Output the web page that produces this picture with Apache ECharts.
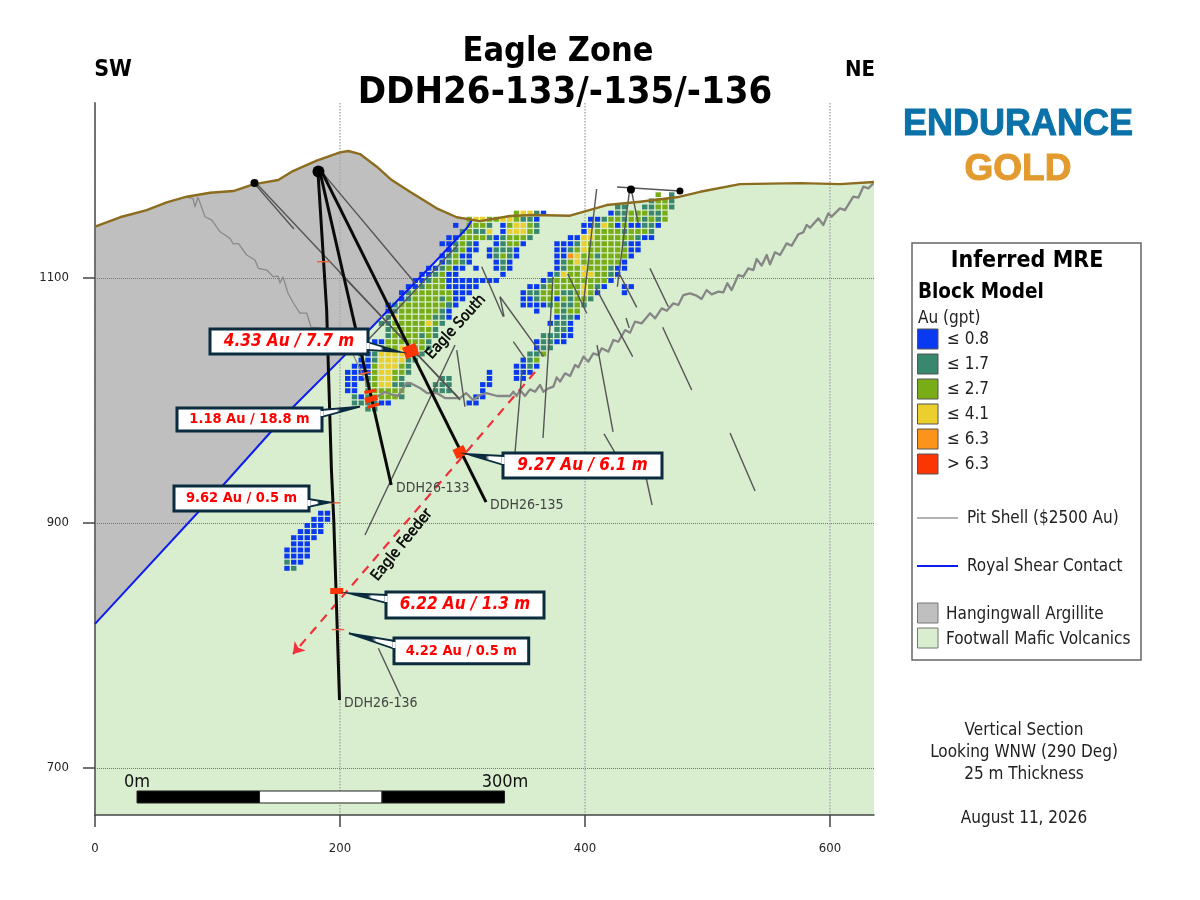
<!DOCTYPE html>
<html><head><meta charset="utf-8">
<style>html,body{margin:0;padding:0;background:#fff}#c{width:1200px;height:900px}</style>
<script src="https://cdn.jsdelivr.net/npm/echarts@6/dist/echarts.min.js"></script>
</head><body><div id="c"></div>
<script>
const xTicks = [0, 200, 400, 600];
const yTicks = [700, 900, 1100];
const topo = [[0,1141.9],[20.4,1149.6],[42.2,1155.5],[58.5,1161.8],[74.9,1166.4],[93.9,1169.6],[112.9,1171],[129.2,1176.5],[149.6,1180],[160.6,1186.8],[181,1195.8],[200,1202.6],[206.8,1203.7],[216.3,1201.2],[230,1190.9],[242.2,1180],[257.1,1170.4],[278.9,1156.9],[295.3,1149.6],[314.3,1146.5],[338.8,1150.6],[357.8,1151.4],[387.8,1150.9],[417.7,1159.6],[444.9,1162.3],[474.9,1165.9],[494,1170.4],[526.5,1176.7],[575.5,1177.5],[608.2,1176.7],[635.9,1178.4]];
const shear = [[0,817.6],[104.7,931],[161.9,994.9],[200,1033],[238.1,1072.5],[281.6,1117.4],[303.4,1140.6],[307.8,1147.5]];
const pitUpper = [[74.9,1165.9],[80,1165],[81.6,1158.2],[84.1,1165.9],[85.7,1165.9],[89.8,1150],[95.3,1147.3],[102,1137.8],[106.1,1135.1],[110.2,1132.4],[112.9,1127.8],[117,1128.3],[123.8,1118.8],[130.6,1114.7],[133.3,1107.9],[140.2,1106.5],[145.6,1101.1],[149.4,1101.6],[151,1095.9],[153.5,1100.8],[157.5,1087.8],[161.9,1079.6],[167.3,1071.4],[172.8,1071.4],[176.3,1060],[183.7,1059.2],[187.8,1055.9],[195.9,1053.5],[202.4,1041.2],[208.2,1042.9],[214.7,1029],[220.4,1016.7],[226.1,1002]];
const pitLower = [[226.1,1002],[230,1003.1],[236.7,1006.9],[240.8,1005.3],[247.3,1003.7],[254.4,1014.3],[258.8,1013.5],[265.3,1010.2],[271,1006.1],[278.9,1006.1],[285.7,1002],[298,1002],[302.9,1006.1],[308.6,1000.4],[314.3,1004.5],[319.7,1006.1],[328.2,1003.7],[338.8,1003.7],[341.5,1007.2],[344.2,1003.7],[347,1008.6],[351,1003.7],[355.1,1009.1],[359.2,1007.2],[363.3,1012.7],[366,1007.2],[370.1,1009.9],[374.2,1011.3],[376.9,1018.9],[379.6,1015.4],[383.7,1022.2],[387.8,1020],[391.9,1029],[394.6,1027.1],[398.7,1035.8],[402.7,1031.7],[406.8,1038.5],[410.9,1037.1],[413.6,1042.6],[419.1,1039.9],[423.2,1049.4],[427.2,1048],[432.7,1057.5],[436.8,1055.4],[440.8,1064.4],[446.3,1063],[453.1,1071.2],[457.2,1067.1],[462.6,1075.2],[466.7,1073.3],[472.1,1079.3],[476.2,1078],[480.3,1086.1],[485.7,1087.5],[491.1,1085.6],[495.2,1082.9],[499.3,1090.2],[503.4,1086.7],[508.8,1088.9],[512.9,1088.3],[516.2,1095.7],[519.7,1090.2],[525.2,1102.5],[529.2,1101.1],[533.3,1107.9],[537.4,1106.5],[540.1,1115.5],[544.2,1110.1],[548.3,1118.8],[551,1111.2],[555.1,1121],[559.2,1118.8],[564.6,1128.3],[568.7,1126.4],[574.1,1135.7],[578.2,1137.3],[580.9,1143.3],[583.7,1141.1],[590.5,1148.7],[594.5,1143.3],[598.6,1152.8],[601.3,1150.1],[608.1,1156.9],[612.2,1155.5],[619,1166.4],[623.1,1165.6],[627.2,1174.6],[631.3,1173.2],[635.4,1177.3]];
const hole136 = [[182,1186.5],[189.1,1074.1],[193,943.3],[194.9,902.5],[199.6,755.5]];
const hole133 = [[183.7,1186.5],[241.8,931]];
const hole135 = [[185.3,1186.5],[319.2,917.1]];
const collars = [[182.4,1186.9],[130.2,1177.5],[437.5,1172.2],[477.5,1171]];
const thinHoles = [[131.2,1175.9,162.4,1140],[132.2,1176.7,298,1000.4],[185.3,1186.5,261.2,1095.9],[296.3,1126.9,222.9,1049.4],[200,1104.1,297.1,1002],[220.4,890.2,293.9,1045.3],[295.3,1041.2,302,994.9],[315.7,1109.2,333.3,1068.4],[330.6,1084.7,333.9,1068.4],[330.6,1084.7,366,1035.8],[341.5,1048,351,1034.4],[373.9,1100.8,365.7,969.4],[342.9,958,348.6,1024.9],[409.5,1172.7,398.4,1076.3],[385.9,1103.3,401.4,1071.2],[409,1091.6,438.9,1035.8],[428.6,1102.4,442.2,1076.1],[453,1107.9,468,1076.6],[433.5,1067.3,436.1,1059.2],[463.4,1059.8,487.1,1008.6],[409.8,1045.3,422.9,974.3],[415.5,972.7,429.4,949],[448.2,944.9,454.7,914.7],[518.4,973.5,538.8,926.1],[436.2,1170.4,426.4,1092.9],[438.1,1170.4,443.5,1144.7],[426.1,1174.3,477.5,1171],[231.3,797.7,249.6,758.3]];
const interceptsHair = [[181.2,1113.3,191.8,1113.3],[192,916.5,200,916.5],[193.3,813,203.5,813],[215.7,1021.4,225.3,1023.3]];
const interceptsMid = [[219.9,1006.4,229.6,1008.6],[222.3,994.4,231.8,997.1]];
const interceptsThick = [[220.4,999.8,230.4,1002.6]];
const interceptLarge = [[257.7,1040.4]];
const interceptMedium = [[298,958]];
const interceptFlat = [[197.3,844.5]];
const feederLine = [[359.2,1023.3],[161.6,793]];
const scaleBar = [34.3,134.3,234.3,334.3];
const scaleBarY = [671.4,681.2];
// grade codes 1..5 by block row: [row, first column, codes]
const blockRows = [
[-3,47,"3.2"],[-2,46,"2332"],[-1,41,"22..22332"],
[0,26,"34421"],[0,40,"122333223"],
[1,19,"34433443221"],[1,37,"1123323323"],[1,46,"323"],
[2,17,"1.3332.13"],[2,26,"4432"],[2,36,"1124313112"],[2,46,"21"],
[3,18,"23224.14"],[3,26,"4432"],[3,36,"14333323332"],
[4,16,"1133332"],[4,23,"1233"],[4,27,"32"],[4,34,"11443333332"],[4,45,"11"],
[5,15,"112321"],[5,23,"1233"],[5,27,"1"],[5,32,"11124333332"],[5,43,"11"],
[6,16,"12311"],[6,22,"1222"],[6,26,"1"],[6,32,"1123433333"],[6,42,"311"],
[7,15,"12311"],[7,22,"1232"],[7,26,"1"],[7,32,"115433233331"],
[8,15,"12321"],[8,23,"121"],[8,32,"12343333331"],
[9,13,"1123"],[9,17,"11"],[9,20,"1"],[9,23,"121"],[9,32,"12334333211"],
[10,12,"112311"],[10,24,"1"],[10,31,"12433443321"],
[11,11,"1123311111111"],[11,30,"12333333331"],
[12,10,"112333"],[12,16,"11111"],[12,28,"112333334321"],[12,42,"11"],
[13,9,"123333331"],[13,18,"11"],[13,27,"12233322343"],[13,38,"1"],[13,42,"1"],
[14,9,"12333323"],[14,17,"11"],[14,27,"11233132332"],
[15,7,"1233333332"],[15,17,"1"],[15,16,"1"],[15,27,"1111232232"],
[16,7,"123333332"],[16,16,"1"],[16,29,"1"],[16,32,"3233"],
[17,7,"2433333221"],[17,32,"1221"],
[18,6,"2233333432"],[18,31,"1221"],
[19,7,"23333332"],[19,32,"221"],
[20,7,"23333232"],[20,30,"22211"],
[21,5,"11333333"],[21,13,"2"],[21,29,"12211"],
[22,4,"11233443"],[22,12,"32"],[22,29,"122"],
[23,3,"1124444322"],[23,28,"223"],
[24,3,"112444422"],[24,27,"123"],
[25,2,"111344432"],[25,26,"1121"],
[26,1,"1111344332"],[26,22,"1"],[26,26,"111"],
[27,1,"111234432"],[27,15,"22"],[27,22,"1"],[27,26,"11"],
[28,1,"11.2344222"],[28,14,"222"],[28,21,"11"],
[29,1,"11.233333"],[29,14,"222"],[29,21,"1"],
[30,2,"21233332"],[30,20,"11"],
[31,2,"222211"],[31,19,"11"],
[32,4,"22"],
[49,-3,"11"],[50,-4,"111"],[51,-5,"111"],[52,-6,"1111"],[53,-7,"1111"],[54,-7,"111"],[55,-8,"1111"],[56,-8,"1111"],[57,-8,"211"],[58,-8,"12"]
];
const gradeColors = ["#0a3af0","#38876e","#78ad17","#eacf2e","#fd931a","#fb3504"];
const gradeLabels = ["≤ 0.8","≤ 1.7","≤ 2.7","≤ 4.1","≤ 6.3","> 6.3"];
const blockOriginX = 200.8, blockStepX = 5.51, blockOriginY = 1153, blockStepY = 5;
const FONT = "'DejaVu Sans Condensed','Noto Sans',sans-serif";

const blocks = [[],[],[],[],[],[]];
blockRows.forEach(([r,c,s])=>{[...s].forEach((ch,i)=>{if(ch!=='.'){blocks[+ch-1].push([blockOriginX+(c+i)*blockStepX,blockOriginY-r*blockStepY]);}});});

const hangingPoly = topo.filter(p=>p[0]<=295.3).concat(shear.slice().reverse());
function segSeries(data,color,width,z){return {type:'custom',z,silent:true,clip:true,data,encode:{x:[0,2],y:[1,3]},renderItem:(p,api)=>{const a=api.coord([api.value(0),api.value(1)]),b=api.coord([api.value(2),api.value(3)]);return {type:'line',shape:{x1:a[0],y1:a[1],x2:b[0],y2:b[1]},style:{stroke:color,lineWidth:width,lineCap:'butt'}};}};}
function lineSeries(data,color,width,z){return {type:'line',z,silent:true,data,symbol:'none',lineStyle:{color,width,join:'round'}};}
function rectSeries(data,size,rotate,z){return {type:'scatter',z,silent:true,data,symbol:'rect',symbolSize:size,symbolRotate:rotate,itemStyle:{color:'#fb3504',opacity:1}};}

const series = [
 {type:'line',z:1,silent:true,data:topo,symbol:'none',lineStyle:{width:0},areaStyle:{color:'#d9edcf',opacity:1,origin:'start'}},
 {type:'custom',z:1,silent:true,data:[[0,0]],renderItem:(p,api)=>({type:'polygon',shape:{points:hangingPoly.map(q=>api.coord(q))},style:{fill:'#bfbfbf'}})},
];
blocks.forEach((d,i)=>{ if(d.length) series.push({type:'scatter',z:3,silent:true,data:d,symbol:'rect',symbolSize:[5.4,4.9],itemStyle:{color:gradeColors[i],opacity:1}}); });
series.push(
 lineSeries(pitUpper,'#8a8a8a',1.3,4),
 lineSeries(pitLower,'#868686',2.3,4),
 lineSeries(shear,'#0d1df0',2,4),
 lineSeries(topo,'#8c6d1f',2.4,5),
 segSeries(thinHoles,'#555',1.4,5),
 lineSeries(hole136,'#0a0a0a',3,6),
 lineSeries(hole133,'#0a0a0a',3,6),
 lineSeries(hole135,'#0a0a0a',3,6),
 {type:'line',z:7,silent:true,data:[],markLine:{silent:true,symbol:['none','arrow'],symbolSize:11,label:{show:false},lineStyle:{color:'#f0303a',type:[9,7],width:2.2},data:[[{coord:feederLine[0]},{coord:feederLine[1]}]]}},
 segSeries(interceptsHair,'#f0613c',1.4,8),
 segSeries(interceptsMid,'#fb3504',3.2,8),
 segSeries(interceptsThick,'#fb3504',5.5,8),
 rectSeries(interceptLarge,[14,12],20,8),
 rectSeries(interceptMedium,[12,10],25,8),
 rectSeries(interceptFlat,[13,6],0,8),
 {type:'scatter',z:9,silent:true,data:collars,symbol:'circle',symbolSize:(v,p)=>[12,8,8,7][p.dataIndex],itemStyle:{color:'#000',opacity:1}},
 {type:'custom',z:6,silent:true,data:[[0],[1],[2]],renderItem:(p,api)=>{const i=api.value(0);const a=api.coord([scaleBar[i],scaleBarY[1]]),b=api.coord([scaleBar[i+1],scaleBarY[0]]);return {type:'rect',shape:{x:a[0],y:a[1],width:b[0]-a[0],height:b[1]-a[1]},style:{fill:i===1?'#fff':'#000',stroke:'#222',lineWidth:1}};}}
);

const G=[];
function T(text,x,y,size,o={}){G.push({type:'text',x,y,z:o.z||50,rotation:(o.rot||0)*Math.PI/180,style:{text,x:0,y:0,fill:o.color||'#111',stroke:o.stroke,lineWidth:o.strokeW||0,font:`${o.style||'normal'} ${o.weight||'normal'} ${size}px ${o.font||FONT}`,align:o.align||'left',verticalAlign:'middle'}});}
T('Eagle Zone',558,52,34,{weight:'bold',align:'center',color:'#000'});
T('DDH26-133/-135/-136',565,93,38,{weight:'bold',align:'center',color:'#000'});
T('SW',113,70,23,{weight:'bold',align:'center',color:'#000'});
T('NE',860,70,22,{weight:'bold',align:'center',color:'#000'});
T('ENDURANCE',1018,125,36,{weight:'bold',align:'center',color:'#0a72a8',font:"'Liberation Sans',sans-serif",stroke:'#0a72a8',strokeW:1});
T('GOLD',1018,170,37,{weight:'bold',align:'center',color:'#e39a2e',font:"'Liberation Sans',sans-serif",stroke:'#e39a2e',strokeW:1});
// legend
G.push({type:'rect',z:40,shape:{x:912,y:243,width:229,height:417},style:{fill:'#fff',stroke:'#666',lineWidth:1.5}});
T('Inferred MRE',1027,261,23,{weight:'bold',align:'center',color:'#000'});
T('Block Model',918,293,20.5,{weight:'bold',color:'#000'});
T('Au (gpt)',918,319,17,{color:'#222'});
const swatchY=[329,354,379,404,429,454];
gradeLabels.forEach((l,i)=>{G.push({type:'rect',z:45,shape:{x:917.5,y:swatchY[i],width:20.5,height:20},style:{fill:gradeColors[i],stroke:'#555',lineWidth:1}});T(l,947,swatchY[i]+10.5,17,{color:'#222'});});
G.push({type:'line',z:45,shape:{x1:917,y1:518,x2:958,y2:518},style:{stroke:'#9a9a9a',lineWidth:1.5}});
T('Pit Shell ($2500 Au)',967,519,17,{color:'#222'});
G.push({type:'line',z:45,shape:{x1:917,y1:566,x2:958,y2:566},style:{stroke:'#0d1df0',lineWidth:2}});
T('Royal Shear Contact',967,567,17,{color:'#222'});
G.push({type:'rect',z:45,shape:{x:917.5,y:603,width:20.5,height:20},style:{fill:'#bfbfbf',stroke:'#777',lineWidth:1}});
G.push({type:'rect',z:45,shape:{x:917.5,y:628,width:20.5,height:20},style:{fill:'#d9edcf',stroke:'#777',lineWidth:1}});
T('Hangingwall Argillite',946,615,17,{color:'#222'});
T('Footwall Mafic Volcanics',946,640,17,{color:'#222'});
T('Vertical Section',1024,731,17,{align:'center',color:'#222'});
T('Looking WNW (290 Deg)',1024,753,17,{align:'center',color:'#222'});
T('25 m Thickness',1024,775,17,{align:'center',color:'#222'});
T('August 11, 2026',1024,819,17,{align:'center',color:'#222'});
T('0m',137,782,18,{align:'center',color:'#111'});
T('300m',505,782,18,{align:'center',color:'#111'});
T('DDH26-133',396,488,14,{color:'#444'});
T('DDH26-135',490,505,14,{color:'#444'});
T('DDH26-136',344,703,14,{color:'#444'});
T('Eagle South',456,327,15,{rot:48,align:'center',color:'#000',stroke:'#000',strokeW:0.5});
T('Eagle Feeder',402,545,15,{rot:51,align:'center',color:'#000',stroke:'#000',strokeW:0.5});
// callouts
const NAVY='#0b2b3f';
function callout(text,x0,y0,x1,y1,tail,big){
 const fromX=tail[0][0], tipX=tail[1][0];
 const grad=new echarts.graphic.LinearGradient(fromX,0,tipX,0,[{offset:0,color:'#fff'},{offset:0.4,color:'#fff'},{offset:0.5,color:NAVY},{offset:1,color:NAVY}],true);
 G.push({type:'polygon',z:59,shape:{points:tail},style:{fill:grad,stroke:NAVY,lineWidth:1.8,lineJoin:'miter'}});
 G.push({type:'rect',z:60,shape:{x:x0,y:y0,width:x1-x0,height:y1-y0},style:{fill:'#fff',stroke:NAVY,lineWidth:3}});
 G.push({type:'rect',z:61,shape:{x:(tail[0][0]<x0+10?x0-1.4:x1-1.6),y:tail[0][1]+1,width:3,height:tail[2][1]-tail[0][1]-2},style:{fill:'#fff'}});
 T(text,(x0+x1)/2,(y0+y1)/2,big?17:14.5,{z:62,weight:'bold',style:big?'italic':'normal',align:'center',color:'#ff0000'});
}
callout('4.33 Au / 7.7 m',210,329,368,354,[[367,342],[400,352],[367,350]],true);
callout('1.18 Au / 18.8 m',177,408,322,431,[[321,410],[360,406.7],[321,417]],false);
callout('9.62 Au / 0.5 m',174,486,309,511,[[308,499],[330,502.3],[308,507]],false);
callout('6.22 Au / 1.3 m',386,592,544,618,[[387,595],[349,593.3],[387,603]],true);
callout('4.22 Au / 0.5 m',394,638,528.7,663.7,[[395,641],[349,633.3],[395,649]],false);
callout('9.27 Au / 6.1 m',503,453,662,478,[[504,456],[467,454],[504,465]],true);

const option={animation:false,backgroundColor:'#fff',
 grid:{left:95,right:326,top:103,bottom:85,containLabel:false},
 xAxis:{type:'value',z:2,min:0,max:635.9,
  axisLine:{show:true,onZero:false,lineStyle:{color:'#444',width:1.5}},
  axisTick:{show:true,length:12,customValues:xTicks,lineStyle:{color:'#444',width:1.5}},
  axisLabel:{show:true,margin:27,customValues:xTicks,color:'#222',fontSize:13,fontFamily:FONT,formatter:v=>String(v)},
  splitLine:{show:true,lineStyle:{color:'#aaa',type:'dotted',width:1.5}}},
 yAxis:{type:'value',z:2,min:661.6,max:1242.9,
  axisLine:{show:true,onZero:false,lineStyle:{color:'#666',width:1.8}},
  axisTick:{show:true,length:12,customValues:yTicks,lineStyle:{color:'#444',width:1.5}},
  axisLabel:{show:true,margin:26,customValues:yTicks,color:'#222',fontSize:13,fontFamily:FONT,formatter:v=>String(v)},
  splitLine:{show:true,lineStyle:{color:'#777',type:'dotted',width:1}}},
 series,graphic:{elements:G}};
const chart=echarts.init(document.getElementById('c'),null,{renderer:'canvas'});
chart.setOption(option);
</script></body></html>
